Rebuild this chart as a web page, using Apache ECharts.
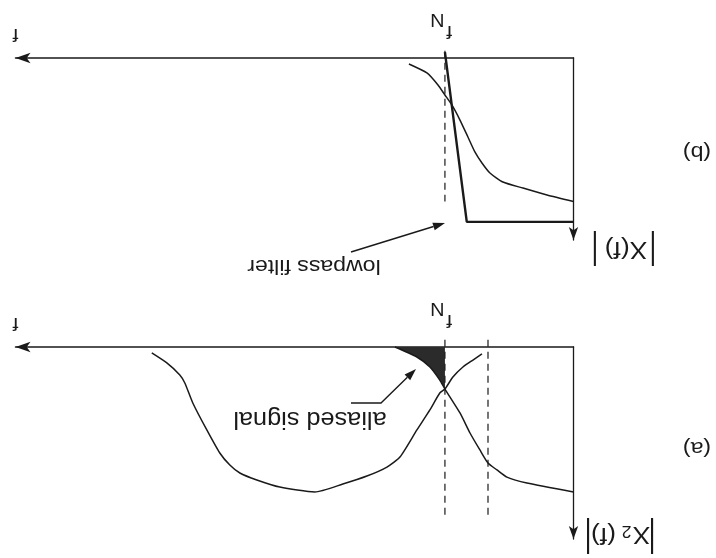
<!DOCTYPE html>
<html>
<head>
<meta charset="utf-8">
<script src="https://cdn.jsdelivr.net/npm/echarts@6/dist/echarts.min.js"></script>
<style>
  html, body { margin: 0; padding: 0; background: #ffffff; }
  #chart { width: 716px; height: 558px; }
</style>
</head>
<body>
<div id="chart"></div>
<script>
// Frequency is measured in units of the Nyquist frequency f_N,
// magnitude is normalised so that |X(0)| = 1.
const fN = 1;
const bandEdge = 0.665;

// Panel (b): signal spectrum |X(f)| and the lowpass (anti-aliasing) filter
const spectrumB = [
  [0, 0.99], [0.206, 0.945], [0.393, 0.897], [0.549, 0.855], [0.650, 0.793],
  [0.712, 0.724], [0.767, 0.648], [0.821, 0.545], [0.883, 0.428], [0.946, 0.324],
  [1.0, 0.255], [1.054, 0.186], [1.140, 0.103], [1.280, 0.041]
];
const lowpassB = [[0, 1.13], [0.83, 1.13], [1.0, -0.04]];

// Panel (a): baseband spectrum and its copy centred on f_s = 2 f_N
const spectrumA = [
  [0, 1.0], [0.362, 0.938], [0.518, 0.897], [0.595, 0.848], [0.665, 0.800],
  [0.728, 0.710], [0.805, 0.593], [0.883, 0.455], [1.0, 0.290], [1.04, 0.228],
  [1.117, 0.138], [1.218, 0.069], [1.389, 0]
];
const imageA = [
  [0.712, 0.048], [0.782, 0.090], [0.860, 0.138], [0.938, 0.207], [1.0, 0.290],
  [1.04, 0.317], [1.117, 0.434], [1.218, 0.572], [1.350, 0.759], [1.451, 0.828],
  [1.607, 0.890], [1.794, 0.945], [2.012, 1.0], [2.284, 0.966], [2.463, 0.917],
  [2.595, 0.869], [2.673, 0.814], [2.751, 0.731], [2.852, 0.572], [2.961, 0.386],
  [3.023, 0.248], [3.062, 0.193], [3.163, 0.110], [3.280, 0.041]
];

// Vertical guide extents (top, bottom) for each panel
const guideSpanB = [-0.05, 0.99];
const guideSpanA = [-0.05, 1.19];

const INK = '#1a1a1a';
const FONT = '"Liberation Sans", Arial, Helvetica, sans-serif';

const chart = echarts.init(document.getElementById('chart'), null, { renderer: 'canvas' });

// Both axes run "backwards" on screen, so the arrow sits on the max side.
function xAxisFor(gridIndex) {
  return {
    type: 'value', gridIndex, min: 0, max: 4.34, inverse: true, position: 'top',
    axisLine: { onZero: false, symbol: ['arrow', 'none'], symbolSize: [8, 15],
      lineStyle: { color: INK, width: 1.5 } },
    axisTick: { show: false }, axisLabel: { show: false }, splitLine: { show: false }
  };
}
function yAxisFor(gridIndex, max) {
  return {
    type: 'value', gridIndex, min: 0, max, inverse: true, position: 'right',
    axisLine: { onZero: false, symbol: ['arrow', 'none'], symbolSize: [7, 13],
      lineStyle: { color: INK, width: 1.3 } },
    axisTick: { show: false }, axisLabel: { show: false }, splitLine: { show: false }
  };
}
function curve(data, xi, opts) {
  return Object.assign({
    type: 'line', xAxisIndex: xi, yAxisIndex: xi, data, showSymbol: false, symbol: 'none',
    smooth: 0.2, clip: false, silent: true, animation: false,
    lineStyle: { color: INK, width: 1.5 }
  }, opts || {});
}
function guide(f, span, xi) {
  return curve([[f, span[0]], [f, span[1]]], xi, {
    smooth: false, lineStyle: { color: INK, width: 1.2, type: [7, 5] }
  });
}

const aliased = spectrumA.filter(p => p[0] >= fN);

chart.setOption({
  backgroundColor: '#ffffff',
  animation: false,
  grid: [
    { left: 15.5, right: 142.5, top: 58, height: 182 },
    { left: 15.5, right: 142.5, top: 347, height: 192 }
  ],
  xAxis: [xAxisFor(0), xAxisFor(1)],
  yAxis: [yAxisFor(0, 1.255), yAxisFor(1, 1.324)],
  series: [
    curve(spectrumB, 0),
    curve(lowpassB, 0, { smooth: false, lineStyle: { color: INK, width: 2.4 } }),
    guide(fN, guideSpanB, 0),
    curve(aliased, 1, { lineStyle: { width: 0 }, areaStyle: { color: '#2b2b2b', opacity: 1 } }),
    curve(spectrumA, 1),
    curve(imageA, 1),
    guide(fN, guideSpanA, 1),
    guide(bandEdge, guideSpanA, 1)
  ]
});

// Upside-down text (the figure is printed rotated by 180 degrees)
function flipped(x, y, text, size, sx) {
  return {
    type: 'text', x, y, rotation: Math.PI, scaleX: sx == null ? 1.1 : sx, silent: true,
    style: {
      text, fontFamily: FONT, fontSize: size, fill: INK,
      align: 'center', verticalAlign: 'middle',
      textAlign: 'center', textVerticalAlign: 'middle'
    }
  };
}
function arrow(points) {
  const n = points.length;
  const [tx, ty] = points[n - 1];
  const [px, py] = points[n - 2];
  const ang = Math.atan2(ty - py, tx - px);
  const L = 12, W = 4;
  const bx = tx - L * Math.cos(ang), by = ty - L * Math.sin(ang);
  const nx = -Math.sin(ang) * W, ny = Math.cos(ang) * W;
  return [
    { type: 'polyline', silent: true,
      shape: { points: points.slice(0, -1).concat([[bx, by]]) },
      style: { stroke: INK, lineWidth: 1.4, fill: null } },
    { type: 'polygon', silent: true,
      shape: { points: [[tx, ty], [bx + nx, by + ny], [bx - nx, by - ny]] },
      style: { fill: INK } }
  ];
}

const nB = chart.convertToPixel({ gridIndex: 0 }, [fN, 0]);
const nA = chart.convertToPixel({ gridIndex: 1 }, [fN, 0]);

chart.setOption({
  graphic: [
    // panel (b)
    flipped(15.5, 34, 'f', 19),
    flipped(nB[0] + 4.5, nB[1] - 27, 'f', 19),
    flipped(nB[0] - 7.5, nB[1] - 39, 'N', 18),
    flipped(595, 249.5, '|', 37, 0.7),
    flipped(626, 248.5, 'X(f)', 24),
    flipped(653, 249.5, '|', 37, 0.7),
    flipped(697, 152, '(b)', 21),
    flipped(314, 266, 'lowpass filter', 21),
    ...arrow([[351, 252], [445, 223]]),
    // panel (a)
    flipped(15.5, 323, 'f', 19),
    flipped(nA[0] + 4.5, nA[1] - 27, 'f', 19),
    flipped(nA[0] - 7.5, nA[1] - 39, 'N', 18),
    flipped(588, 536, '|', 38, 0.7),
    flipped(603.5, 535, '(f)', 24),
    flipped(626.5, 530, '2', 16),
    flipped(641.5, 533.5, 'X', 24),
    flipped(652, 536, '|', 38, 0.7),
    flipped(697, 448, '(a)', 21),
    flipped(310, 418, 'aliased signal', 23),
    ...arrow([[351, 403], [381, 403], [416, 369]])
  ]
});
</script>
</body>
</html>
